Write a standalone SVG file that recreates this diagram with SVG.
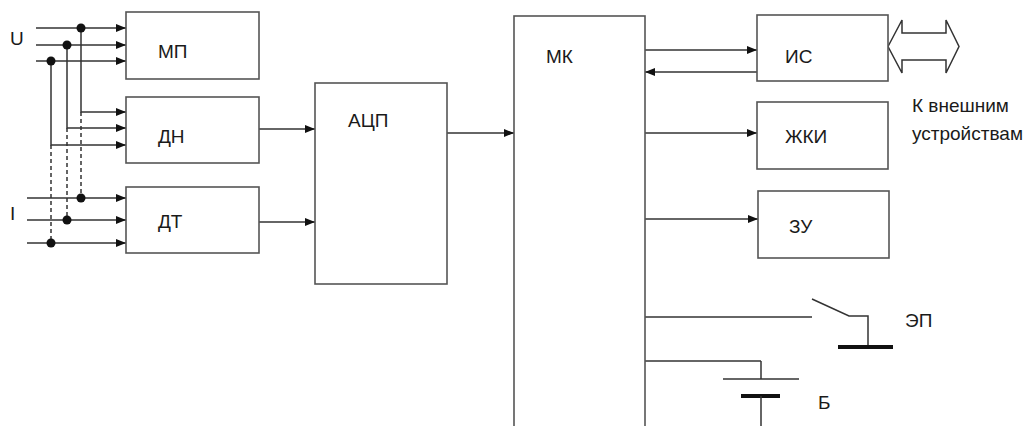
<svg xmlns="http://www.w3.org/2000/svg" width="1027" height="426" viewBox="0 0 1027 426">
<style>
.box{fill:#fff;stroke:#555;stroke-width:1.6}
.ln{fill:none;stroke:#333;stroke-width:1.5}
.dash{fill:none;stroke:#333;stroke-width:1.5;stroke-dasharray:4 3}
.thick{fill:none;stroke:#111;stroke-width:4}
.arr{marker-end:url(#ah)}
.dot{fill:#111}
text{font-family:"Liberation Sans",Arial,sans-serif;font-size:19px;fill:#1a1a1a}
</style>
<defs>
<marker id="ah" viewBox="0 0 10 8" refX="10" refY="4" markerWidth="10" markerHeight="8" markerUnits="userSpaceOnUse" orient="auto">
<path d="M0,0 L10,4 L0,8 Z" fill="#111"/>
</marker>
</defs>
<rect width="1027" height="426" fill="#fff"/>
<g id="connectors">
<line class="ln arr" x1="36" y1="28" x2="126" y2="28"/>
<line class="ln arr" x1="36" y1="45" x2="126" y2="45"/>
<line class="ln arr" x1="36" y1="61" x2="126" y2="61"/>
<polyline class="ln arr" points="81,28 81,112 126,112"/>
<polyline class="ln arr" points="67,45 67,128 126,128"/>
<polyline class="ln arr" points="51,61 51,145 126,145"/>
<line class="dash" x1="81" y1="112" x2="81" y2="198"/>
<line class="dash" x1="67" y1="128" x2="67" y2="220"/>
<line class="dash" x1="51" y1="145" x2="51" y2="243"/>
<line class="ln arr" x1="27" y1="198" x2="126" y2="198"/>
<line class="ln arr" x1="27" y1="220" x2="126" y2="220"/>
<line class="ln arr" x1="27" y1="243" x2="126" y2="243"/>
<circle class="dot" cx="81" cy="28" r="4.5"/>
<circle class="dot" cx="67" cy="45" r="4.5"/>
<circle class="dot" cx="51" cy="61" r="4.5"/>
<circle class="dot" cx="81" cy="198" r="4.5"/>
<circle class="dot" cx="67" cy="220" r="4.5"/>
<circle class="dot" cx="51" cy="243" r="4.5"/>
<line class="ln arr" x1="259" y1="129" x2="315" y2="129"/>
<line class="ln arr" x1="259" y1="222" x2="315" y2="222"/>
<line class="ln arr" x1="447" y1="133" x2="514" y2="133"/>
<line class="ln arr" x1="645" y1="50" x2="757" y2="50"/>
<line class="ln arr" x1="757" y1="72" x2="645" y2="72"/>
<line class="ln arr" x1="645" y1="133" x2="757" y2="133"/>
<line class="ln arr" x1="645" y1="219" x2="758" y2="219"/>
<polygon points="888,46.5 902,20 902,33 946,33 946,20 959,46.5 946,73 946,60 902,60 902,73" fill="#fff" stroke="#333" stroke-width="1.5"/>
<line class="ln" x1="645" y1="317" x2="812" y2="317"/>
<line class="ln" x1="645" y1="361" x2="761" y2="361"/>
</g>
<g id="MP"><rect class="box" x="126" y="12" width="133" height="67"/><text x="158" y="58">МП</text></g>
<g id="DN"><rect class="box" x="126" y="97" width="133" height="66"/><text x="158" y="143">ДН</text></g>
<g id="DT"><rect class="box" x="126" y="187" width="133" height="66"/><text x="158" y="228">ДТ</text></g>
<g id="ADC"><rect class="box" x="315" y="83" width="132" height="201"/><text x="348" y="127">АЦП</text></g>
<g id="MK"><rect class="box" x="514" y="16" width="131" height="420"/><text x="546" y="63">МК</text></g>
<g id="IS"><rect class="box" x="757" y="15" width="131" height="66"/><text x="785" y="63">ИС</text></g>
<g id="LCD"><rect class="box" x="757" y="102" width="131" height="67"/><text x="785" y="143">ЖКИ</text></g>
<g id="ZU"><rect class="box" x="758" y="191" width="131" height="67"/><text x="789" y="233">ЗУ</text></g>
<g id="EP">
<polyline class="ln" points="812,299 849,316 868,316 868,347"/>
<line class="thick" x1="838" y1="347" x2="893" y2="347"/>
<text x="905" y="327">ЭП</text>
</g>
<g id="B">
<line class="ln" x1="761" y1="361" x2="761" y2="379"/>
<line class="ln" x1="723" y1="379" x2="799" y2="379"/>
<line class="thick" x1="741" y1="396" x2="780" y2="396"/>
<line class="ln" x1="761" y1="396" x2="761" y2="430"/>
<text x="818" y="409">Б</text>
</g>
<g id="labels">
<text x="10" y="45">U</text>
<text x="10" y="220">I</text>
<text x="912" y="112">К внешним</text>
<text x="912" y="140">устройствам</text>
</g>
</svg>
